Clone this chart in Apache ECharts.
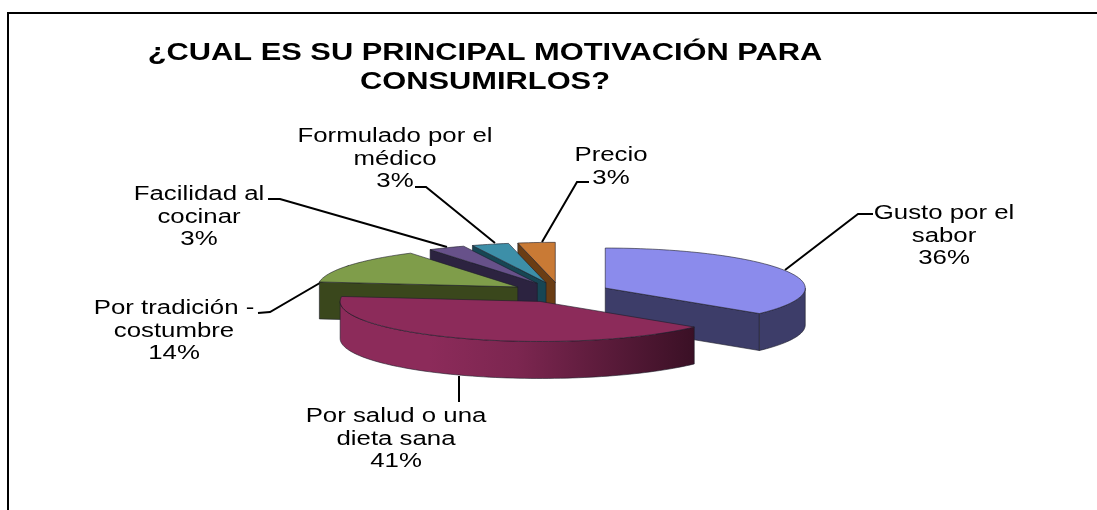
<!DOCTYPE html>
<html>
<head>
<meta charset="utf-8">
<title>Motivación</title>
<script src="https://cdn.jsdelivr.net/npm/echarts@6/dist/echarts.min.js"></script>
<style>
  html, body { margin: 0; padding: 0; background: #fff; }
  #main { width: 1097px; height: 510px; }
</style>
</head>
<body>
<div id="main"></div>
<script>
const titleLines = ['¿CUAL ES SU PRINCIPAL MOTIVACIÓN PARA', 'CONSUMIRLOS?']
const categories = [
  'Gusto por el\nsabor',
  'Por salud o una\ndieta sana',
  'Por tradición -\ncostumbre',
  'Facilidad al\ncocinar',
  'Formulado por el\nmédico',
  'Precio'
]
const percents = [36, 41, 14, 3, 3, 3]

// back to front, the slices overlap each other
const drawOrder = [5, 4, 3, 2, 0, 1]

const topColors = ['#8b8bec', '#8c2b5a', '#7f9d4a', '#67518a', '#3d8fa8', '#c97a35']
const wallColors = ['#3d3d69', '#8c2b5a', '#3a471c', '#2c2340', '#174654', '#6a3d14']

// pie projection, px
const pie = { cx: 560, cy: 292.3, rx: 200, ry: 40, depth: 37, explode: 0.25 }

// label centre and leader line for each category
const labelBoxes = [
  { x: 944, y: 236, line: [[873, 214], [858, 214], [785, 270]] },
  { x: 396, y: 439, line: [[459, 376], [459, 402]] },
  { x: 174, y: 331, line: [[258, 313], [270, 312], [349, 266]] },
  { x: 199, y: 217, line: [[268, 199], [280, 199], [447, 247]] },
  { x: 395, y: 159, line: [[415, 187], [426, 187], [495, 243]] },
  { x: 611, y: 167, line: [[589, 182], [577, 182], [542, 242]] }
]

const total = percents.reduce((a, b) => a + b, 0)
const rad = v => v / total * Math.PI * 2

function sliceAngles (idx) {
  let start = 0
  for (let i = 0; i < idx; i++) start += rad(percents[i])
  return [start, start + rad(percents[idx])]
}

function arcPoints (cx, cy, a0, a1) {
  const pts = []
  const n = Math.max(2, Math.ceil((a1 - a0) / 0.03))
  for (let i = 0; i <= n; i++) {
    const a = a0 + (a1 - a0) * i / n
    pts.push([cx + pie.rx * Math.sin(a), cy - pie.ry * Math.cos(a)])
  }
  return pts
}

function poly (points, fill) {
  return {
    type: 'polygon',
    shape: { points: points },
    style: { fill: fill, stroke: '#1c1c28', lineWidth: 0.6 }
  }
}

function renderSlice (params, api) {
  const idx = api.value(0)
  const [a0, a1] = sliceAngles(idx)
  const mid = (a0 + a1) / 2
  const cx = pie.cx + pie.explode * pie.rx * Math.sin(mid)
  const cy = pie.cy - pie.explode * pie.ry * Math.cos(mid)
  const d = pie.depth
  const apex = [cx, cy]
  const down = p => [p[0], p[1] + d]
  const children = []
  const box = labelBoxes[idx]

  children.push({
    type: 'polyline',
    shape: { points: box.line },
    style: { fill: null, stroke: '#000', lineWidth: 2 }
  })

  const edge = a => [cx + pie.rx * Math.sin(a), cy - pie.ry * Math.cos(a)]
  // start edge faces us on the left half, end edge on the right half
  if (a0 > Math.PI && a0 < Math.PI * 2) {
    children.push(poly([apex, edge(a0), down(edge(a0)), down(apex)], wallColors[idx]))
  }
  if (a1 > 0 && a1 < Math.PI) {
    children.push(poly([apex, edge(a1), down(edge(a1)), down(apex)], wallColors[idx]))
  }
  const w0 = Math.max(a0, Math.PI / 2)
  const w1 = Math.min(a1, Math.PI * 1.5)
  if (w1 > w0) {
    const arc = arcPoints(cx, cy, w0, w1)
    let fill = wallColors[idx]
    if (idx === 1) {
      fill = {
        type: 'linear', x: 1, y: 0, x2: 0, y2: 0,
        colorStops: [
          { offset: 0, color: '#3a1025' },
          { offset: 0.5, color: '#7c2650' },
          { offset: 0.75, color: '#8c2b5a' },
          { offset: 1, color: '#8c2b5a' }
        ]
      }
    }
    children.push(poly(arc.concat(arc.map(down).reverse()), fill))
  }
  children.push(poly([apex].concat(arcPoints(cx, cy, a0, a1)), topColors[idx]))

  children.push({
    type: 'text',
    x: box.x,
    y: box.y,
    scaleX: 1.29,
    style: {
      text: categories[idx] + '\n' + api.value(1) + '%',
      font: '20px "Liberation Sans", Arial, sans-serif',
      lineHeight: 22.5,
      fill: '#000',
      align: 'center',
      verticalAlign: 'middle'
    }
  })

  return { type: 'group', children: children }
}

const chart = echarts.init(document.getElementById('main'), null, { renderer: 'canvas' })
chart.setOption({
  animation: false,
  backgroundColor: '#fff',
  graphic: [
    {
      type: 'polyline',
      shape: { points: [[8, 510], [8, 13], [1097, 13]] },
      style: { fill: null, stroke: '#000', lineWidth: 2 }
    },
    {
      type: 'text',
      x: 485,
      y: 54,
      scaleX: 1.34,
      style: {
        text: titleLines[0],
        font: 'bold 23px "Liberation Sans", Arial, sans-serif',
        fill: '#000',
        align: 'center',
        verticalAlign: 'middle'
      }
    },
    {
      type: 'text',
      x: 485,
      y: 83,
      scaleX: 1.34,
      style: {
        text: titleLines[1],
        font: 'bold 23px "Liberation Sans", Arial, sans-serif',
        fill: '#000',
        align: 'center',
        verticalAlign: 'middle'
      }
    }
  ],
  series: [{
    type: 'custom',
    coordinateSystem: 'none',
    renderItem: renderSlice,
    encode: { tooltip: 1 },
    data: drawOrder.map(i => [i, percents[i]])
  }]
})
</script>
</body>
</html>
